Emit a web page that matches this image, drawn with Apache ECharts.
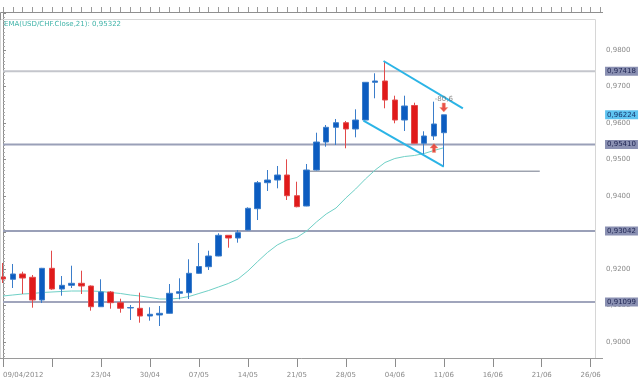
<!DOCTYPE html>
<html><head><meta charset="utf-8">
<script src="https://cdn.jsdelivr.net/npm/echarts@6/dist/echarts.min.js"></script>
<style>html,body{margin:0;padding:0;background:#fff}#c{width:640px;height:382px}</style>
</head><body><div id="c"></div>
<script>
const dates = ['09/04/2012','10/04','11/04','12/04','13/04','16/04','17/04','18/04','19/04','20/04',
  '23/04','24/04','25/04','26/04','27/04','30/04','01/05','02/05','03/05','04/05',
  '07/05','08/05','09/05','10/05','11/05','14/05','15/05','16/05','17/05','18/05',
  '21/05','22/05','23/05','24/05','25/05','28/05','29/05','30/05','31/05','01/06',
  '04/06','05/06','06/06','07/06','08/06','11/06','12/06','13/06','14/06','15/06',
  '16/06','17/06','18/06','19/06','20/06','21/06','22/06','23/06','24/06','25/06','26/06','27/06'];
const opens = [0.91781,0.91718,0.91863,0.91773,0.91151,0.92019,0.91452,0.91553,0.91608,0.91534,
  0.90967,0.91370,0.91077,0.90932,0.90923,0.90712,0.90740,0.90786,0.91334,0.91351,
  0.91882,0.92063,0.92356,0.92923,0.92849,0.93068,0.93652,0.94364,0.94438,0.94575,
  0.94008,0.93726,0.94712,0.95479,0.95882,0.96008,0.95836,0.96082,0.97115,0.97151,
  0.96630,0.96082,0.96480,0.95444,0.95644,0.95734];
const closes = [0.91726,0.91863,0.91753,0.91151,0.92019,0.91452,0.91553,0.91608,0.91534,0.90967,
  0.91370,0.91077,0.90923,0.90945,0.90712,0.90759,0.90786,0.91334,0.91378,0.91882,
  0.92068,0.92356,0.92923,0.92849,0.92995,0.93663,0.94364,0.94438,0.94575,0.94008,
  0.93707,0.94712,0.95479,0.95882,0.96008,0.95836,0.96082,0.97115,0.97151,0.96630,
  0.96082,0.96466,0.95444,0.95644,0.95973,0.96224];
const highs = [0.92164,0.92137,0.91926,0.91836,0.92030,0.92501,0.91808,0.92090,0.91953,0.91550,
  0.91718,0.91397,0.91186,0.91014,0.91351,0.90951,0.90986,0.91589,0.91745,0.92266,
  0.92712,0.92501,0.92978,0.92930,0.93068,0.93690,0.94411,0.94712,0.94822,0.95005,
  0.94392,0.94877,0.95734,0.95945,0.96110,0.96055,0.96375,0.97120,0.97362,0.97699,
  0.96748,0.96748,0.96556,0.95773,0.96584,0.96224];
const lows = [0.91616,0.91479,0.91315,0.90940,0.91068,0.91430,0.91268,0.91479,0.91315,0.90858,
  0.90960,0.90912,0.90803,0.90603,0.90529,0.90584,0.90438,0.90780,0.91170,0.91178,
  0.91870,0.91973,0.92350,0.92584,0.92721,0.93060,0.93342,0.94137,0.94211,0.93890,
  0.93690,0.93720,0.94700,0.95351,0.95397,0.95307,0.95608,0.96080,0.96677,0.96403,
  0.95992,0.95781,0.95440,0.95151,0.95534,0.94803];
const ema = [0.91260,0.91288,0.91315,0.91329,0.91356,0.91370,0.91384,0.91397,0.91397,0.91397,
  0.91384,0.91356,0.91329,0.91288,0.91260,0.91220,0.91178,0.91178,0.91198,0.91247,
  0.91329,0.91411,0.91507,0.91603,0.91726,0.91945,0.92205,0.92452,0.92658,0.92795,
  0.92863,0.93041,0.93288,0.93507,0.93671,0.93945,0.94192,0.94466,0.94712,0.94918,
  0.95027,0.95082,0.95110,0.95164,0.95247,0.95322];
const levelValues = [0.97418, 0.95410, 0.93042, 0.91099];
const levelEnd = 60.44;
const lastClose = 0.96224;
const supportLine = [[31.2, 0.9468], [54.8, 0.9468]];
const channelUpper = [[38.85, 0.97699], [46.95, 0.96403]];
const channelLower = [[36.8, 0.96063], [45, 0.94803]];
const arrowDown = [45, 0.96425];
const arrowUp = [44, 0.95315];
const noteText = '-80,6';
const notePos = [45, 0.96658];
const legendText = 'EMA(USD/CHF.Close,21): 0,95322';

const FONT = 'DejaVu Sans';
const fmt5 = v => v.toFixed(5).replace('.', ',');
const arrowPath = 'path://M4,0 L8,4.5 L5.6,4.5 L5.6,9 L2.4,9 L2.4,4.5 L0,4.5 Z';

const chart = echarts.init(document.getElementById('c'), null, {renderer: 'canvas'});

const levelColors = ['#c4c6cc', '#9aa0b8', '#9aa0b8', '#a0a5bc'];
const badge = (bg, fg) => ({show: true, distance: 10, backgroundColor: bg, color: fg,
  padding: [1, 2, 0, 2], fontSize: 7, fontFamily: FONT, lineHeight: 8, align: 'left'});

const levelSeries = levelValues.map((v, k) => ({
  type: 'line', xAxisIndex: 2, yAxisIndex: 0, silent: true, animation: false,
  symbol: 'none', data: [[0, v], [levelEnd, v]],
  lineStyle: {color: levelColors[k], width: 2},
  endLabel: Object.assign(badge('#8a90b2', '#1e2452'), {formatter: fmt5(v)}),
  z: 1
}));

const option = {
  animation: false,
  backgroundColor: '#ffffff',
  title: {text: legendText, left: 4, top: 21, padding: 0,
    textStyle: {fontSize: 7, fontFamily: FONT, fontWeight: 'normal', color: '#3fb3a8'}},
  grid: {left: 1.5, right: 39.5, top: 12, bottom: 24, containLabel: false},
  xAxis: [
    {type: 'category', data: dates, boundaryGap: false,
      axisLine: {show: false},
      axisTick: {show: true, interval: (i) => i % 5 === 0, length: 9, lineStyle: {color: '#8c8c8c'}},
      axisLabel: {interval: (i) => i % 5 === 0 && i !== 5, color: '#8a8a8a', fontSize: 7,
        fontFamily: FONT, margin: 14, alignMinLabel: 'left'},
      splitLine: {show: false}},
    {type: 'category', data: dates, boundaryGap: false,
      axisLine: {show: false},
      axisTick: {show: true, interval: 0, length: 5, lineStyle: {color: '#9a9a9a'}},
      axisLabel: {show: false}, splitLine: {show: false}},
    {type: 'value', min: 0, max: dates.length - 1, show: false}
  ],
  yAxis: [{
    type: 'value', position: 'right', offset: 2.5,
    min: 0.895616, max: 0.990411, splitNumber: 9, minInterval: 0.01, maxInterval: 0.01,
    axisLine: {show: true, lineStyle: {color: '#8c8c8c'}},
    axisTick: {show: true, length: 3, lineStyle: {color: '#8c8c8c'}},
    minorTick: {show: true, splitNumber: 10, length: 2, lineStyle: {color: '#a8a8a8'}},
    splitLine: {show: false},
    axisLabel: {margin: 3, color: '#8a8a8a', fontSize: 7, fontFamily: FONT,
      formatter: (v) => {
        const k = Math.round(v * 100);
        if (Math.abs(v * 100 - k) > 1e-6 || k >= 99) return '';
        return (k / 100).toFixed(4).replace('.', ',');
      }}
  }],
  graphic: [
    {type: 'polyline', silent: true, z: 100,
      shape: {points: [[0.5, 20], [0.5, 12.5], [603, 12.5]]},
      style: {stroke: '#8f8f8f', lineWidth: 1, fill: null}},
    {type: 'rect', silent: true, z: 99,
      shape: {x: 0.5, y: 19.5, width: 595, height: 339},
      style: {stroke: '#d6d6d6', lineWidth: 1, fill: null}},
    {type: 'line', silent: true, z: 100,
      shape: {x1: 0, y1: 358.5, x2: 603, y2: 358.5},
      style: {stroke: '#9a9a9a', lineWidth: 1}}
  ],
  series: [
    ...levelSeries,
    {type: 'line', xAxisIndex: 2, silent: true, symbol: 'none', data: supportLine,
      lineStyle: {color: '#6f7789', width: 1}, z: 1},
    {type: 'line', xAxisIndex: 0, silent: true, symbol: 'none', showSymbol: false, data: ema,
      lineStyle: {color: '#6fd0c6', width: 1}, z: 2},
    {type: 'candlestick', xAxisIndex: 0, yAxisIndex: 0, barWidth: 6,
      data: opens.map((o, i) => [o, closes[i], lows[i], highs[i]]),
      itemStyle: {color: '#0c5cc0', color0: '#e01a1a', borderColor: '#3b7dca', borderColor0: '#e24a4a',
        borderColorDoji: '#6f9fd8', borderWidth: 1}, z: 3},
    {type: 'line', xAxisIndex: 2, silent: true, symbol: 'none', data: channelUpper,
      lineStyle: {color: '#2bb4e6', width: 2}, z: 4},
    {type: 'line', xAxisIndex: 2, silent: true, symbol: 'none', data: channelLower,
      lineStyle: {color: '#2bb4e6', width: 2}, z: 4},
    {type: 'line', xAxisIndex: 2, silent: true, symbol: 'none',
      data: [[levelEnd, lastClose], [levelEnd + 0.01, lastClose]],
      lineStyle: {color: 'rgba(0,0,0,0)', width: 0},
      endLabel: Object.assign(badge('#5ec3f0', '#17386e'), {formatter: fmt5(lastClose)}), z: 5},
    {type: 'scatter', xAxisIndex: 2, silent: true, z: 6,
      data: [
        {value: arrowDown, symbol: arrowPath, symbolSize: [8, 9], symbolRotate: 180},
        {value: arrowUp, symbol: arrowPath, symbolSize: [8, 9]},
        {value: notePos, symbol: 'circle', symbolSize: 0,
          label: {show: true, position: 'inside', formatter: noteText, fontSize: 7,
            fontFamily: FONT, color: '#6a6a6a'}}
      ],
      itemStyle: {color: '#e3261c', borderColor: '#f59a7a', borderWidth: 0.6}}
  ]
};
chart.setOption(option);
</script>
</body></html>
